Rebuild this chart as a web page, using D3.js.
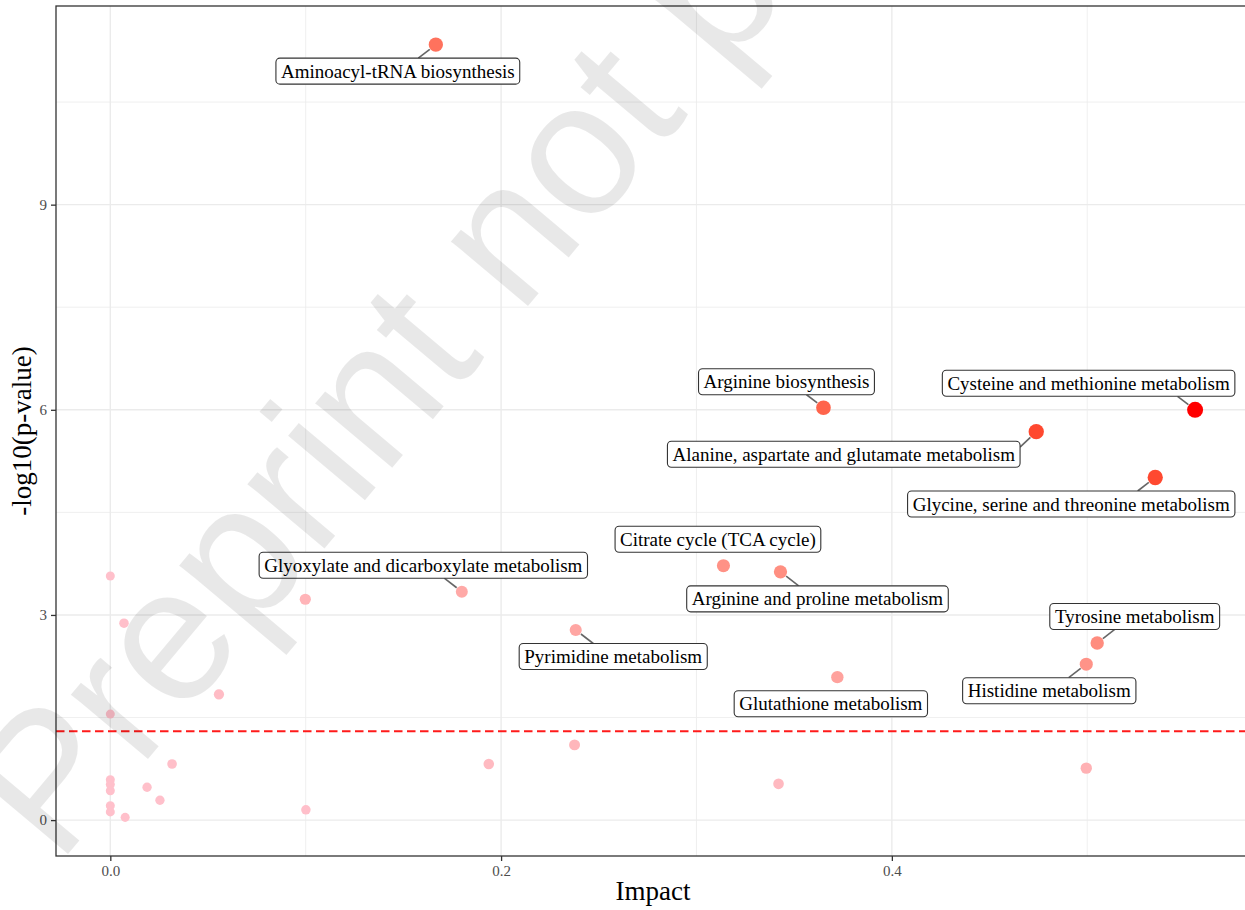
<!DOCTYPE html>
<html><head><meta charset="utf-8">
<script src="https://cdn.jsdelivr.net/npm/d3@7"></script>
<style>body{margin:0;background:#fff}</style>
</head><body><svg id="c" width="1245" height="910"></svg>
<script>
// ---------------- data ----------------
const pathways = [
  "Aminoacyl-tRNA biosynthesis",
  "Arginine biosynthesis",
  "Cysteine and methionine metabolism",
  "Alanine, aspartate and glutamate metabolism",
  "Glycine, serine and threonine metabolism",
  "Citrate cycle (TCA cycle)",
  "Arginine and proline metabolism",
  "Glyoxylate and dicarboxylate metabolism",
  "Pyrimidine metabolism",
  "Tyrosine metabolism",
  "Histidine metabolism",
  "Glutathione metabolism"
];
const impactLabeled = [0.1666, 0.3650, 0.5552, 0.4739, 0.5348, 0.3138, 0.3430, 0.1799, 0.2382, 0.5051, 0.4995, 0.3721];
const logpLabeled   = [11.34, 6.03, 6.00, 5.68, 5.01, 3.72, 3.63, 3.34, 2.78, 2.59, 2.28, 2.09];
const impactOther = [0, 0.0070, 0.0998, 0.0556, 0, 0.0316, 0.0188, 0.0254, 0, 0, 0, 0, 0, 0.0076, 0.1001, 0.1937, 0.2376, 0.3420, 0.4995];
const logpOther   = [3.57, 2.88, 3.23, 1.84, 1.55, 0.82, 0.48, 0.29, 0.59, 0.52, 0.43, 0.21, 0.12, 0.04, 0.15, 0.82, 1.10, 0.53, 0.76];
const xTicks = [0, 0.2, 0.4];
const xTickLabels = ["0.0", "0.2", "0.4"];
const xMinor = [0.1, 0.3, 0.5];
const yTicks = [0, 3, 6, 9];
const yTickLabels = ["0", "3", "6", "9"];
const yMinor = [1.5, 4.5, 7.5, 10.5];
const threshold = -Math.log10(0.05);
const xTitle = "Impact";
const yTitle = "-log10(p-value)";
const watermarkText = "Preprint not peer reviewed";

// ---------------- layout (label box centre offsets from point, px) ----------------
const labelOffsets = [
  [-38, 26.5], [-37, -26], [-106.5, -26.5], [-192.5, 22.5], [-84, 26.5], [-5.5, -26.5],
  [37, 27], [-38.5, -26.5], [37.5, 26.5], [37.5, -26.5], [-37, 26.5], [-6.5, 26.5]
];

// ---------------- chart ----------------
const svg = d3.select("#c");
const W = 1245, H = 910;
const P = {left: 56, top: 6, right: 1250, bottom: 856};
const x = d3.scaleLinear().domain([-0.0278, 0.5833]).range([P.left, P.right]);
const y = d3.scaleLinear().domain([-0.525, 11.905]).range([P.bottom, P.top]);

const points = pathways.map((n, i) => ({name: n, impact: impactLabeled[i], logp: logpLabeled[i], label: true, off: labelOffsets[i]}))
  .concat(impactOther.map((v, i) => ({name: "", impact: v, logp: logpOther[i], label: false})));
points.forEach(d => d.m = d.impact * d.logp);
const mMax = d3.max(points, d => d.m);
const rScale = d3.scaleSqrt().domain([0, mMax]).range([4.5, 8]);
const cScale = d3.scaleLinear().domain([0, mMax]).range(["pink", "red"]).interpolate(d3.interpolateLab);

const serif = "'Liberation Serif', 'DejaVu Serif', serif";

svg.append("rect").attr("width", W).attr("height", H).attr("fill", "#fff");
svg.append("clipPath").attr("id", "pc").append("rect")
  .attr("x", P.left).attr("y", P.top).attr("width", P.right - P.left).attr("height", P.bottom - P.top);
const g = svg.append("g");
const panel = g.append("g").attr("clip-path", "url(#pc)");

// grid
panel.selectAll(".xm").data(xMinor).join("line").attr("x1", d => x(d)).attr("x2", d => x(d))
  .attr("y1", P.top).attr("y2", P.bottom).attr("stroke", "#EBEBEB").attr("stroke-width", 0.8);
panel.selectAll(".ym").data(yMinor).join("line").attr("y1", d => y(d)).attr("y2", d => y(d))
  .attr("x1", P.left).attr("x2", P.right).attr("stroke", "#EBEBEB").attr("stroke-width", 0.8);
panel.selectAll(".xM").data(xTicks).join("line").attr("x1", d => x(d)).attr("x2", d => x(d))
  .attr("y1", P.top).attr("y2", P.bottom).attr("stroke", "#EBEBEB").attr("stroke-width", 1.4);
panel.selectAll(".yM").data(yTicks).join("line").attr("y1", d => y(d)).attr("y2", d => y(d))
  .attr("x1", P.left).attr("x2", P.right).attr("stroke", "#EBEBEB").attr("stroke-width", 1.4);

// threshold line
panel.append("line").attr("x1", P.left).attr("x2", P.right).attr("y1", y(threshold)).attr("y2", y(threshold))
  .attr("stroke", "#FF1A1A").attr("stroke-width", 2).attr("stroke-dasharray", "8.5,4.5");

// points (draw small first)
const sorted = points.slice().sort((a, b) => a.m - b.m);
panel.selectAll("circle.pt").data(sorted).join("circle").attr("class", "pt")
  .attr("cx", d => x(d.impact)).attr("cy", d => y(d.logp)).attr("r", d => rScale(d.m))
  .attr("fill", d => cScale(d.m));

// labels
const lab = points.filter(d => d.label);
const lg = panel.append("g");
lab.forEach(d => {
  const px = x(d.impact), py = y(d.logp);
  const cx = px + d.off[0], cy = py + d.off[1];
  const t = lg.append("text").attr("x", cx).attr("y", cy).attr("text-anchor", "middle")
    .attr("dominant-baseline", "central").attr("font-family", serif).attr("font-size", 19)
    .attr("fill", "#000").text(d.name);
  const bb = t.node().getBBox();
  const bw = bb.width + 10, bh = 26;
  const bx = cx - bw / 2, by = cy - bh / 2;
  // length test: line from point to box centre, clipped to box edge
  const dx = cx - px, dy = cy - py;
  const ey = dy > 0 ? by : by + bh;
  const tc = (ey - py) / dy;
  const lenC = Math.hypot(tc * dx, tc * dy);
  // drawn segment: diagonal toward the box
  const gap = Math.abs(ey - py);
  let ex = px + Math.sign(dx) * gap * 1.3;
  ex = Math.max(bx, Math.min(bx + bw, ex));
  let eyy = ey;
  if ((ex === bx + bw && px > bx + bw) || (ex === bx && px < bx)) eyy = ey + (dy > 0 ? 6 : -6);
  const len = Math.hypot(ex - px, eyy - py);
  const r = rScale(d.m) + 0.5;
  if (lenC > 17) {
    lg.insert("line", "text").attr("x1", px + (ex - px) * r / len).attr("y1", py + (eyy - py) * r / len)
      .attr("x2", ex).attr("y2", eyy).attr("stroke", "#666").attr("stroke-width", 1.6);
  }
  lg.insert("rect", "text").attr("x", bx).attr("y", by).attr("width", bw).attr("height", bh)
    .attr("rx", 4).attr("fill", "#fff").attr("stroke", "#333").attr("stroke-width", 1.1);
  t.raise();
});

// border
g.append("rect").attr("x", P.left).attr("y", P.top).attr("width", P.right - P.left).attr("height", P.bottom - P.top)
  .attr("fill", "none").attr("stroke", "#333").attr("stroke-width", 1.3);

// axes
const xAxis = d3.axisBottom(x).tickValues(xTicks).tickSize(5).tickPadding(4).tickFormat((d, i) => xTickLabels[i]);
const xa = g.append("g").attr("transform", `translate(0,${P.bottom})`).call(xAxis);
const yAxis = d3.axisLeft(y).tickValues(yTicks).tickSize(5).tickPadding(4).tickFormat((d, i) => yTickLabels[i]);
const ya = g.append("g").attr("transform", `translate(${P.left},0)`).call(yAxis);
[xa, ya].forEach(a => {
  a.select(".domain").remove();
  a.selectAll(".tick line").attr("stroke", "#333").attr("stroke-width", 1.3);
  a.selectAll(".tick text").attr("fill", "#4D4D4D").attr("font-family", serif).attr("font-size", 15);
});

g.append("text").attr("x", (P.left + 1250) / 2).attr("y", 900).attr("text-anchor", "middle")
  .attr("font-family", serif).attr("font-size", 27).attr("fill", "#000").text(xTitle);
g.append("text").attr("transform", `translate(31,${(P.top + P.bottom) / 2}) rotate(-90)`).attr("text-anchor", "middle")
  .attr("font-family", serif).attr("font-size", 27).attr("fill", "#000").text(yTitle);

// watermark
svg.append("text").attr("transform", "translate(58,866) rotate(-50)")
  .attr("font-family", "'Liberation Sans', Arial, sans-serif").attr("font-size", 190)
  .attr("fill", "#000").attr("fill-opacity", 0.09).text(watermarkText);
</script></body></html>
